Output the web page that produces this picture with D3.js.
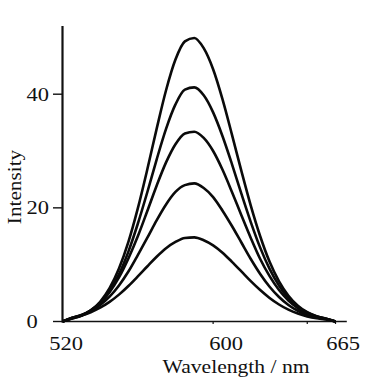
<!DOCTYPE html>
<html>
<head>
<meta charset="utf-8">
<script src="https://cdn.jsdelivr.net/npm/d3@7"></script>
<style>
  body { margin: 0; background: #fff; }
  svg text { font-family: "Liberation Serif", "Times New Roman", serif; fill: #111; }
</style>
</head>
<body>
<svg id="chart" width="374" height="383"></svg>
<script>
const wavelengths = d3.range(520, 666, 5);

const curve1 = [0, 0.52, 1.03, 1.95, 3.47, 5.85, 9.31, 14.0, 19.9, 26.7, 33.9, 40.7, 46.1, 49.3, 49.9, 48.1, 44.4, 39.1, 32.9, 26.5, 20.4, 15.0, 10.5, 7.06, 4.53, 2.78, 1.63, 0.91, 0.49, 0];
const curve2 = [0, 0.53, 1.02, 1.87, 3.24, 5.33, 8.31, 12.3, 17.2, 22.7, 28.5, 33.9, 38.2, 40.8, 41.2, 39.8, 36.8, 32.6, 27.7, 22.5, 17.5, 13.0, 9.26, 6.32, 4.13, 2.59, 1.55, 0.89, 0.49, 0];
const curve3 = [0, 0.62, 1.14, 1.98, 3.28, 5.17, 7.75, 11.1, 15.0, 19.4, 23.9, 28.0, 31.2, 33.1, 33.4, 32.3, 30.0, 26.7, 22.8, 18.7, 14.7, 11.0, 7.98, 5.53, 3.68, 2.35, 1.44, 0.84, 0.47, 0];
const curve4 = [0, 0.63, 1.10, 1.82, 2.89, 4.38, 6.35, 8.80, 11.7, 14.7, 17.8, 20.6, 22.8, 24.0, 24.3, 23.5, 21.9, 19.5, 16.8, 13.9, 11.0, 8.37, 6.12, 4.31, 2.91, 1.89, 1.18, 0.71, 0.41, 0];
const curve5 = [0, 0.67, 1.07, 1.64, 2.43, 3.45, 4.73, 6.24, 7.93, 9.68, 11.4, 12.9, 14.0, 14.7, 14.8, 14.3, 13.4, 12.1, 10.5, 8.81, 7.10, 5.53, 4.14, 2.99, 2.08, 1.40, 0.90, 0.56, 0.34, 0];
const allCurves = [curve1, curve2, curve3, curve4, curve5];

// as-labels
const xTickValues = [520, 600, 665];
const xMinorTicks = [600, 650, 665];
const yTickValues = [0, 20, 40];

const svg = d3.select("#chart");

// schalen
const x = d3.scaleLinear().domain([520, 665]).range([62.5, 335.5]);
const y = d3.scaleLinear().domain([0, 40]).range([321.5, 94.2]);

// letters in het origineel zijn breder dan Times, dus horizontaal uitrekken
const stretch = 1.25;

// x-as lijn (loopt iets door na 665)
svg.append("line")
    .attr("x1", x(520)).attr("x2", x(671))
    .attr("y1", y(0)).attr("y2", y(0))
    .attr("stroke", "#111").attr("stroke-width", 1.6);

// kleine streepjes op de x-as
svg.selectAll(".xtick")
    .data(xMinorTicks)
    .enter()
    .append("line")
    .attr("x1", d => x(d)).attr("x2", d => x(d))
    .attr("y1", y(0)).attr("y2", y(0) + 2.5)
    .attr("stroke", "#111").attr("stroke-width", 1.2);

// y-as lijn
svg.append("line")
    .attr("x1", x(520)).attr("x2", x(520))
    .attr("y1", y(0) + 1).attr("y2", y(52))
    .attr("stroke", "#111").attr("stroke-width", 2.2);

// y streepjes
svg.selectAll(".ytick")
    .data(yTickValues)
    .enter()
    .append("line")
    .attr("x1", x(520) - 9.5).attr("x2", x(520))
    .attr("y1", d => y(d)).attr("y2", d => y(d))
    .attr("stroke", "#111").attr("stroke-width", 1.4);

// y labels (links uitgelijnd zoals in het origineel)
svg.selectAll(".ylab")
    .data(yTickValues)
    .enter()
    .append("text")
    .attr("transform", d => "translate(26.5," + y(d) + ") scale(" + stretch + ",1)")
    .attr("dy", "0.35em")
    .attr("font-size", 18)
    .text(d => d);

// x labels, iets naar rechts verschoven
const xLabelShift = {520: 3.5, 600: 13, 665: 7.5};
svg.selectAll(".xlab")
    .data(xTickValues)
    .enter()
    .append("text")
    .attr("transform", d => "translate(" + (x(d) + xLabelShift[d]) + ",350) scale(" + stretch + ",1)")
    .attr("text-anchor", "middle")
    .attr("font-size", 18)
    .text(d => d);

// as-titels
svg.append("text")
    .attr("transform", "translate(236,373) scale(1.2,1)")
    .attr("text-anchor", "middle")
    .attr("font-size", 18)
    .text("Wavelength / nm");

svg.append("text")
    .attr("transform", "translate(21,187) rotate(-90) scale(1.18,1)")
    .attr("text-anchor", "middle")
    .attr("font-size", 18)
    .text("Intensity");

// de curves
const line = d3.line()
    .x((d, i) => x(wavelengths[i]))
    .y(d => y(d))
    .curve(d3.curveMonotoneX);

svg.selectAll(".curve")
    .data(allCurves)
    .enter()
    .append("path")
    .attr("d", line)
    .attr("fill", "none")
    .attr("stroke", "#0a0a0a")
    .attr("stroke-width", 2.6)
    .attr("stroke-linejoin", "round");
</script>
</body>
</html>
